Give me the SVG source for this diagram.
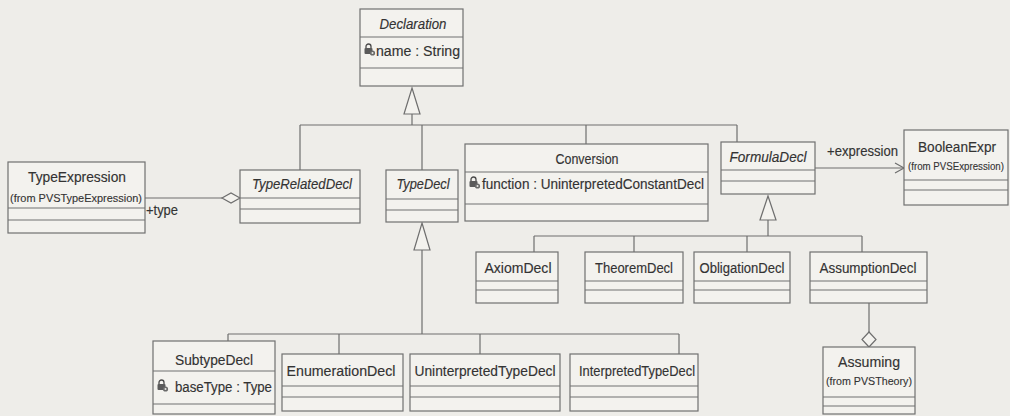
<svg xmlns="http://www.w3.org/2000/svg" width="1010" height="416" viewBox="0 0 1010 416">
  <style>
    .box { fill: #f3f2ee; stroke: #707070; stroke-width: 1.2; }
    .sep { stroke: #707070; stroke-width: 1.2; fill: none; }
    .ln { stroke: #6e6e6e; stroke-width: 1.2; fill: none; }
    .tri { fill: #f3f2ee; stroke: #6e6e6e; stroke-width: 1.2; }
    .t { font-family: "Liberation Sans", Arial, sans-serif; font-size: 14px; fill: #333; stroke: #333; stroke-width: 0.15; text-anchor: middle; }
    .ta { font-family: "Liberation Sans", Arial, sans-serif; font-size: 14px; fill: #333; stroke: #333; stroke-width: 0.15; }
    .i { font-style: italic; }
    .s { font-family: "Liberation Sans", Arial, sans-serif; font-size: 11px; fill: #333; stroke: #333; stroke-width: 0.12; text-anchor: middle; }
  </style>
  <defs>
    <!-- private attribute marker: small lock with key -->
    <g id="lock">
      <path d="M2,4 v-1.5 a2.5,2.5 0 0 1 5,0 v1.5" fill="none" stroke="#4a4a4a" stroke-width="1.3"/>
      <rect x="0.5" y="4" width="8" height="6" rx="1" fill="#5a5a5a"/>
      <circle cx="8.5" cy="9" r="2.6" fill="#6a6a6a"/>
      <circle cx="8.5" cy="9" r="1" fill="#e8e8e4"/>
    </g>
  </defs>

  <rect width="1010" height="416" fill="#eeede9"/>

  <!-- connectors -->
  <g id="connectors">
    <!-- generalization to Declaration -->
    <line class="ln" x1="412" y1="114" x2="412" y2="125"/>
    <line class="ln" x1="300" y1="125" x2="737" y2="125"/>
    <line class="ln" x1="300" y1="125" x2="300" y2="170"/>
    <line class="ln" x1="422" y1="125" x2="422" y2="170"/>
    <line class="ln" x1="586" y1="125" x2="586" y2="144"/>
    <line class="ln" x1="737" y1="125" x2="737" y2="142"/>
    <polygon class="tri" points="412,88 420,114 404,114"/>

    <!-- generalization to FormulaDecl -->
    <line class="ln" x1="768" y1="220" x2="768" y2="236"/>
    <line class="ln" x1="534" y1="236" x2="862" y2="236"/>
    <line class="ln" x1="534" y1="236" x2="534" y2="252"/>
    <line class="ln" x1="634" y1="236" x2="634" y2="252"/>
    <line class="ln" x1="747" y1="236" x2="747" y2="252"/>
    <line class="ln" x1="862" y1="236" x2="862" y2="252"/>
    <polygon class="tri" points="768,196 776,220 760,220"/>

    <!-- generalization to TypeDecl -->
    <line class="ln" x1="422" y1="250" x2="422" y2="334"/>
    <line class="ln" x1="228" y1="334" x2="679" y2="334"/>
    <line class="ln" x1="228" y1="334" x2="228" y2="341"/>
    <line class="ln" x1="339" y1="334" x2="339" y2="354"/>
    <line class="ln" x1="480" y1="334" x2="480" y2="354"/>
    <line class="ln" x1="679" y1="334" x2="679" y2="354"/>
    <polygon class="tri" points="422,223 430,250 414,250"/>

    <!-- TypeRelatedDecl aggregates TypeExpression -->
    <line class="ln" x1="145" y1="198" x2="222" y2="198"/>
    <polygon class="tri" points="240,198 231,193 222,198 231,203"/>
    <text class="ta" x="146" y="215" textLength="32" lengthAdjust="spacingAndGlyphs">+type</text>

    <!-- FormulaDecl navigates to BooleanExpr -->
    <line class="ln" x1="815" y1="168" x2="904" y2="168"/>
    <polyline class="ln" points="895,163 904,168 895,173"/>
    <text class="ta" x="827" y="156" textLength="71" lengthAdjust="spacingAndGlyphs">+expression</text>

    <!-- AssumptionDecl aggregates Assuming -->
    <line class="ln" x1="869" y1="303" x2="869" y2="332"/>
    <polygon class="tri" points="869,332 876,339.5 869,347 862,339.5"/>
  </g>

  <!-- classes -->
  <g id="Declaration">
    <rect class="box" x="360" y="9" width="103" height="77"/>
    <line class="sep" x1="360" y1="37" x2="463" y2="37"/>
    <line class="sep" x1="360" y1="68" x2="463" y2="68"/>
    <text class="t i" x="413" y="29" textLength="67" lengthAdjust="spacingAndGlyphs">Declaration</text>
    <use href="#lock" x="364" y="44"/>
    <text class="ta" x="376" y="56" textLength="84" lengthAdjust="spacingAndGlyphs">name : String</text>
  </g>

  <g id="TypeExpression">
    <rect class="box" x="8" y="162" width="137" height="71"/>
    <line class="sep" x1="8" y1="208" x2="145" y2="208"/>
    <line class="sep" x1="8" y1="220" x2="145" y2="220"/>
    <text class="t" x="77" y="182" textLength="98" lengthAdjust="spacingAndGlyphs">TypeExpression</text>
    <text class="s" x="76" y="202" textLength="132" lengthAdjust="spacingAndGlyphs">(from PVSTypeExpression)</text>
  </g>

  <g id="TypeRelatedDecl">
    <rect class="box" x="240" y="170" width="120" height="53"/>
    <line class="sep" x1="240" y1="198" x2="360" y2="198"/>
    <line class="sep" x1="240" y1="209" x2="360" y2="209"/>
    <text class="t i" x="302" y="189" textLength="100" lengthAdjust="spacingAndGlyphs">TypeRelatedDecl</text>
  </g>

  <g id="TypeDecl">
    <rect class="box" x="386" y="170" width="72" height="52"/>
    <line class="sep" x1="386" y1="199" x2="458" y2="199"/>
    <line class="sep" x1="386" y1="210" x2="458" y2="210"/>
    <text class="t i" x="423" y="189" textLength="53" lengthAdjust="spacingAndGlyphs">TypeDecl</text>
  </g>

  <g id="Conversion">
    <rect class="box" x="465" y="144" width="243" height="77"/>
    <line class="sep" x1="465" y1="172" x2="708" y2="172"/>
    <line class="sep" x1="465" y1="204" x2="708" y2="204"/>
    <text class="t" x="587" y="164" textLength="63" lengthAdjust="spacingAndGlyphs">Conversion</text>
    <use href="#lock" x="469" y="177"/>
    <text class="ta" x="482" y="189" textLength="222" lengthAdjust="spacingAndGlyphs">function : UninterpretedConstantDecl</text>
  </g>

  <g id="FormulaDecl">
    <rect class="box" x="721" y="142" width="94" height="52"/>
    <line class="sep" x1="721" y1="170" x2="815" y2="170"/>
    <line class="sep" x1="721" y1="181" x2="815" y2="181"/>
    <text class="t i" x="768" y="162" textLength="77" lengthAdjust="spacingAndGlyphs">FormulaDecl</text>
  </g>

  <g id="BooleanExpr">
    <rect class="box" x="904" y="130" width="104" height="75"/>
    <line class="sep" x1="904" y1="180" x2="1008" y2="180"/>
    <line class="sep" x1="904" y1="190" x2="1008" y2="190"/>
    <text class="t" x="957" y="152" textLength="78" lengthAdjust="spacingAndGlyphs">BooleanExpr</text>
    <text class="s" x="956" y="170" font-size="9px" textLength="96" lengthAdjust="spacingAndGlyphs">(from PVSExpression)</text>
  </g>

  <g id="AxiomDecl">
    <rect class="box" x="476" y="252" width="82" height="51"/>
    <line class="sep" x1="476" y1="281" x2="558" y2="281"/>
    <line class="sep" x1="476" y1="290" x2="558" y2="290"/>
    <text class="t" x="518" y="273" textLength="67" lengthAdjust="spacingAndGlyphs">AxiomDecl</text>
  </g>

  <g id="TheoremDecl">
    <rect class="box" x="585" y="252" width="98" height="51"/>
    <line class="sep" x1="585" y1="281" x2="683" y2="281"/>
    <line class="sep" x1="585" y1="290" x2="683" y2="290"/>
    <text class="t" x="634" y="273" textLength="78" lengthAdjust="spacingAndGlyphs">TheoremDecl</text>
  </g>

  <g id="ObligationDecl">
    <rect class="box" x="694" y="252" width="96" height="51"/>
    <line class="sep" x1="694" y1="281" x2="790" y2="281"/>
    <line class="sep" x1="694" y1="290" x2="790" y2="290"/>
    <text class="t" x="742" y="273" textLength="85" lengthAdjust="spacingAndGlyphs">ObligationDecl</text>
  </g>

  <g id="AssumptionDecl">
    <rect class="box" x="810" y="252" width="117" height="51"/>
    <line class="sep" x1="810" y1="281" x2="927" y2="281"/>
    <line class="sep" x1="810" y1="290" x2="927" y2="290"/>
    <text class="t" x="868" y="273" textLength="97" lengthAdjust="spacingAndGlyphs">AssumptionDecl</text>
  </g>

  <g id="Assuming">
    <rect class="box" x="823" y="347" width="92" height="67"/>
    <line class="sep" x1="823" y1="397" x2="915" y2="397"/>
    <line class="sep" x1="823" y1="406" x2="915" y2="406"/>
    <text class="t" x="869" y="367" textLength="62" lengthAdjust="spacingAndGlyphs">Assuming</text>
    <text class="s" x="869" y="385" textLength="86" lengthAdjust="spacingAndGlyphs">(from PVSTheory)</text>
  </g>

  <g id="SubtypeDecl">
    <rect class="box" x="153" y="341" width="122" height="73"/>
    <line class="sep" x1="153" y1="371" x2="275" y2="371"/>
    <line class="sep" x1="153" y1="404" x2="275" y2="404"/>
    <text class="t" x="214" y="365" textLength="78" lengthAdjust="spacingAndGlyphs">SubtypeDecl</text>
    <use href="#lock" x="157" y="380"/>
    <text class="ta" x="175" y="392" textLength="97" lengthAdjust="spacingAndGlyphs">baseType : Type</text>
  </g>

  <g id="EnumerationDecl">
    <rect class="box" x="282" y="354" width="121" height="57"/>
    <line class="sep" x1="282" y1="386" x2="403" y2="386"/>
    <line class="sep" x1="282" y1="397" x2="403" y2="397"/>
    <text class="t" x="341" y="376" textLength="109" lengthAdjust="spacingAndGlyphs">EnumerationDecl</text>
  </g>

  <g id="UninterpretedTypeDecl">
    <rect class="box" x="410" y="354" width="150" height="57"/>
    <line class="sep" x1="410" y1="386" x2="560" y2="386"/>
    <line class="sep" x1="410" y1="397" x2="560" y2="397"/>
    <text class="t" x="485" y="376" textLength="141" lengthAdjust="spacingAndGlyphs">UninterpretedTypeDecl</text>
  </g>

  <g id="InterpretedTypeDecl">
    <rect class="box" x="570" y="354" width="128" height="57"/>
    <line class="sep" x1="570" y1="386" x2="698" y2="386"/>
    <line class="sep" x1="570" y1="397" x2="698" y2="397"/>
    <text class="t" x="637" y="376" textLength="116" lengthAdjust="spacingAndGlyphs">InterpretedTypeDecl</text>
  </g>
</svg>
